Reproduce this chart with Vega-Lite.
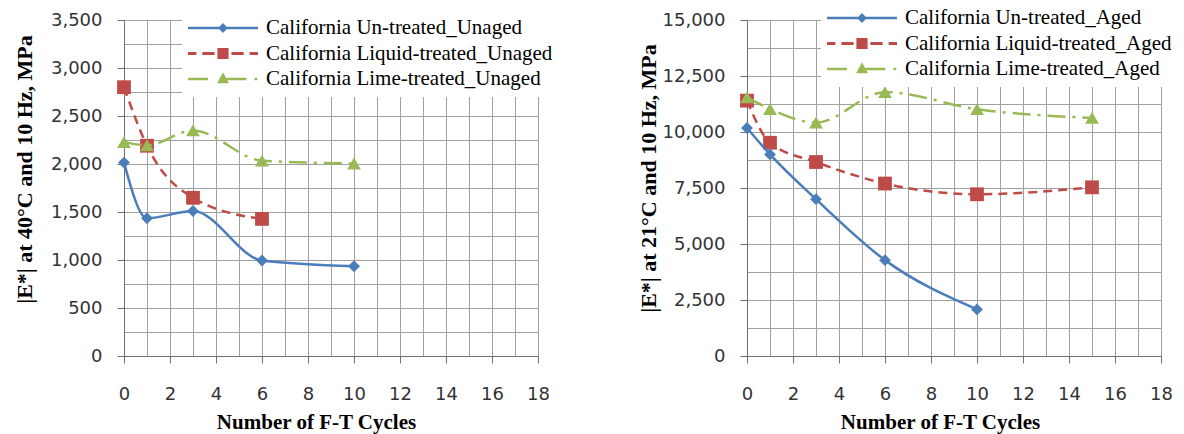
{
  "$schema": "https://vega.github.io/schema/vega-lite/v6.json",
  "background": "white",
  "padding": {"left": 12, "top": 0, "right": 5, "bottom": 5},
  "resolve": {
    "scale": {"color": "independent", "shape": "independent"},
    "legend": {"color": "independent", "shape": "independent"}
  },
  "config": {
    "view": {"stroke": null},
    "font": "Liberation Serif",
    "axis": {
      "labelFont": "DejaVu Sans",
      "labelFontSize": 18,
      "labelColor": "#333333",
      "labelOverlap": false,
      "labelFlush": false,
      "titleFont": "Liberation Serif",
      "titleFontWeight": "bold",
      "titleFontSize": 21,
      "titleColor": "#000000",
      "tickSize": 7,
      "tickColor": "#707070",
      "domainColor": "#707070",
      "gridColor": "#a0a0a0",
      "gridOpacity": 1,
      "grid": true
    },
    "legend": {
      "labelFont": "Liberation Serif",
      "labelFontSize": 21,
      "labelColor": "#000000",
      "labelLimit": 0
    }
  },
  "datasets": {
    "unaged": [
      {"series": "California Un-treated_Unaged", "cycles": 0, "modulus": 2015},
      {"series": "California Un-treated_Unaged", "cycles": 1, "modulus": 1435},
      {"series": "California Un-treated_Unaged", "cycles": 3, "modulus": 1510},
      {"series": "California Un-treated_Unaged", "cycles": 6, "modulus": 995},
      {"series": "California Un-treated_Unaged", "cycles": 10, "modulus": 935},
      {"series": "California Liquid-treated_Unaged", "cycles": 0, "modulus": 2800},
      {"series": "California Liquid-treated_Unaged", "cycles": 1, "modulus": 2190},
      {"series": "California Liquid-treated_Unaged", "cycles": 3, "modulus": 1648},
      {"series": "California Liquid-treated_Unaged", "cycles": 6, "modulus": 1428},
      {"series": "California Lime-treated_Unaged", "cycles": 0, "modulus": 2228},
      {"series": "California Lime-treated_Unaged", "cycles": 1, "modulus": 2195},
      {"series": "California Lime-treated_Unaged", "cycles": 3, "modulus": 2350},
      {"series": "California Lime-treated_Unaged", "cycles": 6, "modulus": 2035},
      {"series": "California Lime-treated_Unaged", "cycles": 10, "modulus": 2005}
    ],
    "aged": [
      {"series": "California Un-treated_Aged", "cycles": 0, "modulus": 10180},
      {"series": "California Un-treated_Aged", "cycles": 1, "modulus": 9000},
      {"series": "California Un-treated_Aged", "cycles": 3, "modulus": 7000},
      {"series": "California Un-treated_Aged", "cycles": 6, "modulus": 4280},
      {"series": "California Un-treated_Aged", "cycles": 10, "modulus": 2080},
      {"series": "California Liquid-treated_Aged", "cycles": 0, "modulus": 11400},
      {"series": "California Liquid-treated_Aged", "cycles": 1, "modulus": 9520},
      {"series": "California Liquid-treated_Aged", "cycles": 3, "modulus": 8660},
      {"series": "California Liquid-treated_Aged", "cycles": 6, "modulus": 7700},
      {"series": "California Liquid-treated_Aged", "cycles": 10, "modulus": 7220},
      {"series": "California Liquid-treated_Aged", "cycles": 15, "modulus": 7530},
      {"series": "California Lime-treated_Aged", "cycles": 0, "modulus": 11550},
      {"series": "California Lime-treated_Aged", "cycles": 1, "modulus": 11030},
      {"series": "California Lime-treated_Aged", "cycles": 3, "modulus": 10420},
      {"series": "California Lime-treated_Aged", "cycles": 6, "modulus": 11780},
      {"series": "California Lime-treated_Aged", "cycles": 10, "modulus": 11020},
      {"series": "California Lime-treated_Aged", "cycles": 15, "modulus": 10630}
    ]
  },
  "spacing": 77,
  "hconcat": [
    {
      "width": 414,
      "height": 336,
      "resolve": {"axis": {"x": "independent", "y": "independent"}},
      "layer": [
        {
          "data": {"name": "unaged"},
          "transform": [{"filter": {"field": "series", "equal": "California Liquid-treated_Unaged"}}],
          "mark": {"type": "line", "color": "#BE4B48", "strokeWidth": 2.5, "strokeDash": [9, 6], "interpolate": "monotone",
                   "point": {"filled": true, "shape": "square", "size": 190, "color": "#BE4B48"}},
          "encoding": {
            "x": {"field": "cycles", "type": "quantitative", "scale": {"domain": [0, 18], "nice": false},
                  "axis": {"orient": "bottom", "values": [0,1,2,3,4,5,6,7,8,9,10,11,12,13,14,15,16,17,18], "labels": false, "ticks": false, "domain": false, "title": null,
                           "gridColor": "#a0a0a0", "gridWidth": 1}},
            "y": {"field": "modulus", "type": "quantitative", "scale": {"domain": [0, 3500], "nice": false},
                  "axis": {"orient": "left", "values": [0,250,500,750,1000,1250,1500,1750,2000,2250,2500,2750,3000,3250,3500], "labels": false, "ticks": false, "domain": false, "title": null,
                           "gridColor": "#a0a0a0", "gridWidth": 1}}
          }
        },
        {
          "data": {"name": "unaged"},
          "transform": [{"filter": {"field": "series", "equal": "California Un-treated_Unaged"}}],
          "mark": {"type": "line", "color": "#4A7EBB", "strokeWidth": 2.5, "interpolate": "monotone",
                   "point": {"filled": true, "shape": "diamond", "size": 140, "color": "#4A7EBB"}},
          "encoding": {
            "x": {"field": "cycles", "type": "quantitative",
                  "axis": {"orient": "bottom", "values": [0,2,4,6,8,10,12,14,16,18], "grid": false,
                           "labelBaseline": "middle", "labelPadding": 31,
                           "title": "Number of F-T Cycles", "titleX": 192, "titleY": 66, "titleBaseline": "middle", "titleAlign": "center"}},
            "y": {"field": "modulus", "type": "quantitative",
                  "axis": {"orient": "left", "values": [0,500,1000,1500,2000,2500,3000,3500], "grid": false,
                           "format": ",d", "labelPadding": 15,
                           "title": "|E*| at 40°C and 10 Hz, MPa", "titleX": -100, "titleY": 149, "titleBaseline": "middle", "titleAlign": "center", "titleFontSize": 22}}
          }
        },
        {
          "data": {"name": "unaged"},
          "transform": [{"filter": {"field": "series", "equal": "California Lime-treated_Unaged"}}],
          "mark": {"type": "line", "color": "#98B954", "strokeWidth": 2.5, "strokeDash": [18, 7, 3, 7], "interpolate": "monotone",
                   "point": {"filled": true, "shape": "triangle-up", "size": 190, "color": "#98B954"}},
          "encoding": {
            "x": {"field": "cycles", "type": "quantitative", "axis": null},
            "y": {"field": "modulus", "type": "quantitative", "axis": null}
          }
        },
        {
          "data": {"values": []},
          "mark": {"type": "point", "filled": true, "opacity": 1},
          "encoding": {
            "color": {"field": "series", "type": "nominal",
                      "scale": {"domain": ["California Un-treated_Unaged", "California Liquid-treated_Unaged", "California Lime-treated_Unaged"],
                                "range": ["#4A7EBB", "#BE4B48", "#98B954"]},
                      "legend": {"title": null, "orient": "none", "legendX": 58, "legendY": -10, "padding": 6, "fillColor": "white",
                                 "symbolSize": 4900, "clipHeight": 24, "symbolStrokeWidth": 0, "symbolOpacity": 1, "labelOffset": 8, "rowPadding": 1.5}},
            "shape": {"field": "series", "type": "nominal",
                      "scale": {"domain": ["California Un-treated_Unaged", "California Liquid-treated_Unaged", "California Lime-treated_Unaged"],
                                "range": [
                                  "M-1,-0.036H1V0.036H-1Z M0,-0.14L0.14,0L0,0.14L-0.14,0Z",
                                  "M-1,-0.043H-0.76V0.043H-1Z M-0.59,-0.043H-0.24V0.043H-0.59Z M-0.16,-0.16H0.16V0.16H-0.16Z M0.24,-0.043H0.59V0.043H0.24Z M0.76,-0.043H1V0.043H0.76Z",
                                  "M-1,-0.036H-0.43V0.036H-1Z M0,-0.19L0.17,0.12H-0.17Z M0.1,-0.036H0.67V0.036H0.1Z M0.9,-0.036H0.98V0.036H0.9Z"
                                ]},
                      "legend": {"title": null, "orient": "none", "legendX": 58, "legendY": -10, "padding": 6, "fillColor": "white",
                                 "symbolSize": 4900, "clipHeight": 24, "symbolStrokeWidth": 0, "symbolOpacity": 1, "labelOffset": 8, "rowPadding": 1.5}}
          }
        }
      ]
    },
    {
      "width": 414,
      "height": 336,
      "resolve": {"axis": {"x": "independent", "y": "independent"}},
      "layer": [
        {
          "data": {"name": "aged"},
          "transform": [{"filter": {"field": "series", "equal": "California Liquid-treated_Aged"}}],
          "mark": {"type": "line", "color": "#BE4B48", "strokeWidth": 2.5, "strokeDash": [9, 6], "interpolate": "monotone",
                   "point": {"filled": true, "shape": "square", "size": 190, "color": "#BE4B48"}},
          "encoding": {
            "x": {"field": "cycles", "type": "quantitative", "scale": {"domain": [0, 18], "nice": false},
                  "axis": {"orient": "bottom", "values": [0,1,2,3,4,5,6,7,8,9,10,11,12,13,14,15,16,17,18], "labels": false, "ticks": false, "domain": false, "title": null,
                           "gridColor": "#a0a0a0", "gridWidth": 1}},
            "y": {"field": "modulus", "type": "quantitative", "scale": {"domain": [0, 15000], "nice": false},
                  "axis": {"orient": "left", "values": [0,1250,2500,3750,5000,6250,7500,8750,10000,11250,12500,13750,15000], "labels": false, "ticks": false, "domain": false, "title": null,
                           "gridColor": "#a0a0a0", "gridWidth": 1}}
          }
        },
        {
          "data": {"name": "aged"},
          "transform": [{"filter": {"field": "series", "equal": "California Un-treated_Aged"}}],
          "mark": {"type": "line", "color": "#4A7EBB", "strokeWidth": 2.5, "interpolate": "monotone",
                   "point": {"filled": true, "shape": "diamond", "size": 140, "color": "#4A7EBB"}},
          "encoding": {
            "x": {"field": "cycles", "type": "quantitative",
                  "axis": {"orient": "bottom", "values": [0,2,4,6,8,10,12,14,16,18], "grid": false,
                           "labelBaseline": "middle", "labelPadding": 31,
                           "title": "Number of F-T Cycles", "titleX": 193, "titleY": 66, "titleBaseline": "middle", "titleAlign": "center"}},
            "y": {"field": "modulus", "type": "quantitative",
                  "axis": {"orient": "left", "values": [0,2500,5000,7500,10000,12500,15000], "grid": false,
                           "format": ",d", "labelPadding": 15,
                           "title": "|E*| at 21°C and 10 Hz, MPa", "titleX": -99, "titleY": 158, "titleBaseline": "middle", "titleAlign": "center", "titleFontSize": 22}}
          }
        },
        {
          "data": {"name": "aged"},
          "transform": [{"filter": {"field": "series", "equal": "California Lime-treated_Aged"}}],
          "mark": {"type": "line", "color": "#98B954", "strokeWidth": 2.5, "strokeDash": [18, 7, 3, 7], "interpolate": "monotone",
                   "point": {"filled": true, "shape": "triangle-up", "size": 190, "color": "#98B954"}},
          "encoding": {
            "x": {"field": "cycles", "type": "quantitative", "axis": null},
            "y": {"field": "modulus", "type": "quantitative", "axis": null}
          }
        },
        {
          "data": {"values": []},
          "mark": {"type": "point", "filled": true, "opacity": 1},
          "encoding": {
            "color": {"field": "series", "type": "nominal",
                      "scale": {"domain": ["California Un-treated_Aged", "California Liquid-treated_Aged", "California Lime-treated_Aged"],
                                "range": ["#4A7EBB", "#BE4B48", "#98B954"]},
                      "legend": {"title": null, "orient": "none", "legendX": 74, "legendY": -20, "padding": 6, "fillColor": "white",
                                 "symbolSize": 4900, "clipHeight": 24, "symbolStrokeWidth": 0, "symbolOpacity": 1, "labelOffset": 8, "rowPadding": 1.5}},
            "shape": {"field": "series", "type": "nominal",
                      "scale": {"domain": ["California Un-treated_Aged", "California Liquid-treated_Aged", "California Lime-treated_Aged"],
                                "range": [
                                  "M-1,-0.036H1V0.036H-1Z M0,-0.14L0.14,0L0,0.14L-0.14,0Z",
                                  "M-1,-0.043H-0.76V0.043H-1Z M-0.59,-0.043H-0.24V0.043H-0.59Z M-0.16,-0.16H0.16V0.16H-0.16Z M0.24,-0.043H0.59V0.043H0.24Z M0.76,-0.043H1V0.043H0.76Z",
                                  "M-1,-0.036H-0.43V0.036H-1Z M0,-0.19L0.17,0.12H-0.17Z M0.1,-0.036H0.67V0.036H0.1Z M0.9,-0.036H0.98V0.036H0.9Z"
                                ]},
                      "legend": {"title": null, "orient": "none", "legendX": 74, "legendY": -20, "padding": 6, "fillColor": "white",
                                 "symbolSize": 4900, "clipHeight": 24, "symbolStrokeWidth": 0, "symbolOpacity": 1, "labelOffset": 8, "rowPadding": 1.5}}
          }
        }
      ]
    }
  ]
}
